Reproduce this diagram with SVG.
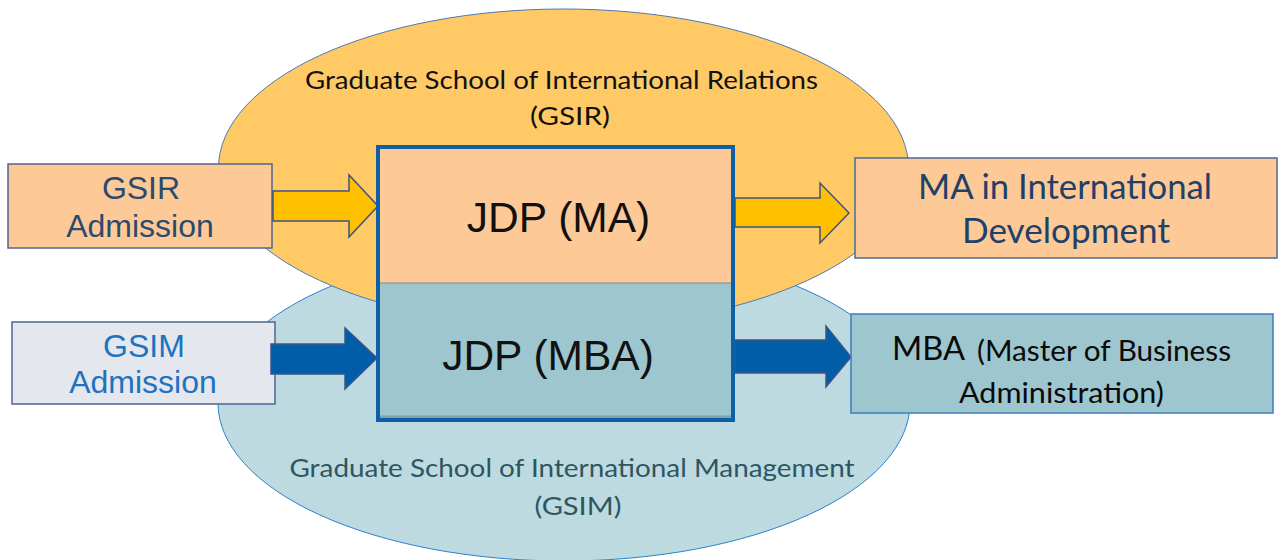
<svg xmlns="http://www.w3.org/2000/svg" width="1282" height="560" viewBox="0 0 1282 560">
<style>
.sans{font-family:"Liberation Sans",Arial,sans-serif}
.hum{font-family:Lato,"Open Sans","Noto Sans",sans-serif}
.box{stroke:#4F6690;stroke-width:1.5}
.arrow{stroke:#3E5384;stroke-width:1.5;stroke-linejoin:miter}
</style>
<rect width="1282" height="560" fill="#FFFFFF"/>
<g id="gsim-school">
<ellipse cx="564" cy="403" rx="346" ry="158" fill="#BDDAE0" stroke="#2F80D0" stroke-width="1"/>
<text class="hum" x="572" y="477" font-size="25" fill="#2E5661" text-anchor="middle" textLength="565" lengthAdjust="spacingAndGlyphs">Graduate School of International Management</text>
<text class="hum" x="578" y="515" font-size="25" fill="#2E5661" text-anchor="middle" textLength="87" lengthAdjust="spacingAndGlyphs">(GSIM)</text>
</g>
<g id="gsir-school">
<ellipse cx="563.5" cy="168" rx="345" ry="159" fill="#FFCA66" stroke="#4C7BB0" stroke-width="1"/>
<text class="hum" x="561.5" y="89" font-size="25" fill="#111111" text-anchor="middle" textLength="513" lengthAdjust="spacingAndGlyphs">Graduate School of International Relations</text>
<text class="hum" x="570" y="125" font-size="25" fill="#111111" text-anchor="middle" textLength="80" lengthAdjust="spacingAndGlyphs">(GSIR)</text>
</g>
<g id="gsir-admission">
<rect class="box" x="8" y="164" width="264" height="84" fill="#FDC996"/>
<text class="sans" x="141" y="199" font-size="32" fill="#2C4A6E" text-anchor="middle">GSIR</text>
<text class="sans" x="140" y="237" font-size="32" fill="#2C4A6E" text-anchor="middle">Admission</text>
</g>
<g id="gsim-admission">
<rect class="box" x="12" y="322" width="263" height="82" fill="#E4E8EE"/>
<text class="sans" x="144" y="357" font-size="32" fill="#1E73BE" text-anchor="middle">GSIM</text>
<text class="sans" x="143" y="393" font-size="32" fill="#1E73BE" text-anchor="middle">Admission</text>
</g>
<g id="connectors">
<polygon class="arrow" points="273,191 349,191 349,175 378,206 349,237 349,221 273,221" fill="#FFC000"/>
<polygon class="arrow" points="271,344 345,344 345,328 377,358 345,389 345,374 271,374" fill="#005EA8"/>
<polygon class="arrow" points="735,198 820,198 820,183 849,213 820,243 820,227 735,227" fill="#FFC000"/>
<polygon class="arrow" points="735,340 826,340 826,326 851,357 826,387 826,373 735,373" fill="#005EA8"/>
</g>
<g id="jdp">
<rect x="378" y="147" width="355" height="136" fill="#FDC996"/>
<rect x="378" y="283" width="355" height="137" fill="#9DC6CF"/>
<line x1="378" y1="283" x2="733" y2="283" stroke="#7F8E96" stroke-width="1.2"/>
<rect x="378" y="415.5" width="355" height="3" fill="#7FA3AC"/>
<rect x="378" y="147" width="355" height="273" fill="none" stroke="#0F5EA8" stroke-width="4"/>
<text class="sans" x="558.5" y="232" font-size="42.5" fill="#111111" text-anchor="middle">JDP (MA)</text>
<text class="sans" x="548" y="370" font-size="42.5" fill="#111111" text-anchor="middle">JDP (MBA)</text>
</g>
<g id="ma-id">
<rect x="855" y="158" width="422" height="100" fill="#FDC996" stroke="#4A6A90" stroke-width="1.5"/>
<text class="hum" x="1065" y="199" font-size="35" fill="#1F4068" text-anchor="middle" textLength="294" lengthAdjust="spacingAndGlyphs">MA in International</text>
<text class="hum" x="1066" y="243" font-size="35" fill="#1F4068" text-anchor="middle" textLength="208" lengthAdjust="spacingAndGlyphs">Development</text>
</g>
<g id="mba">
<rect x="851" y="314" width="422" height="99" fill="#9DC6CF" stroke="#3A7EC0" stroke-width="1.5"/>
<text class="hum" x="892" y="360" font-size="32" fill="#0A0A0A" textLength="73" lengthAdjust="spacingAndGlyphs">MBA</text>
<text class="hum" x="977" y="361" font-size="28" fill="#0A0A0A" textLength="254" lengthAdjust="spacingAndGlyphs">(Master of Business</text>
<text class="hum" x="959" y="403" font-size="28" fill="#0A0A0A" textLength="205" lengthAdjust="spacingAndGlyphs">Administration)</text>
</g>
</svg>
